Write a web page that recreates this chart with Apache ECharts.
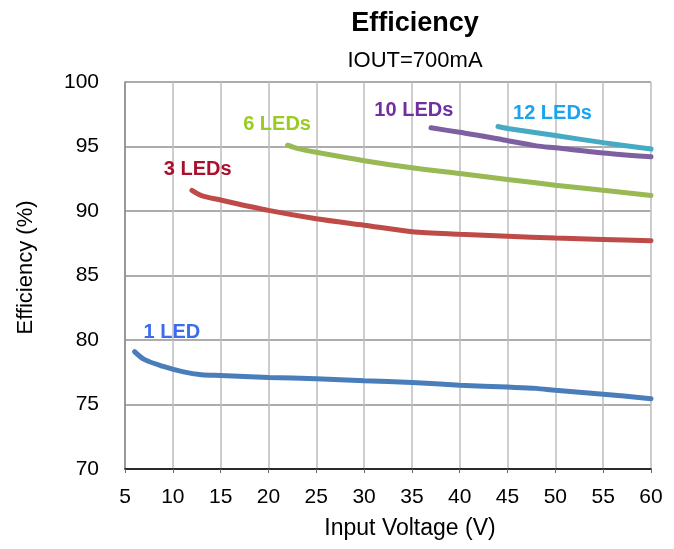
<!DOCTYPE html>
<html>
<head>
<meta charset="utf-8">
<script src="https://cdn.jsdelivr.net/npm/echarts@6/dist/echarts.min.js"></script>
<style>
  html, body { margin: 0; padding: 0; background: #fff; }
  #chart { width: 674px; height: 549px; }
</style>
</head>
<body>
<div id="chart"></div>
<script>
// efficiency curves, [input voltage, efficiency %]
const led1 = [[6, 79.1], [7, 78.5], [9, 77.95], [11, 77.55], [13, 77.3], [15, 77.25], [20, 77.1],
  [25, 77.0], [30, 76.85], [35, 76.7], [40, 76.5], [45, 76.35], [48, 76.25], [50, 76.1], [55, 75.8], [60, 75.45]]
const led3 = [[12, 91.6], [13, 91.2], [15, 90.85], [20, 90.05], [25, 89.4], [30, 88.9], [35, 88.4],
  [40, 88.2], [45, 88.05], [50, 87.9], [55, 87.8], [60, 87.7]]
const led6 = [[22, 95.1], [23, 94.85], [25, 94.55], [30, 93.9], [35, 93.35], [40, 92.9], [45, 92.45],
  [50, 92.0], [55, 91.6], [60, 91.2]]
const led10 = [[37, 96.45], [40, 96.1], [42.5, 95.8], [45, 95.45], [48, 95.05], [50, 94.9], [55, 94.5], [60, 94.2]]
const led12 = [[44, 96.55], [45, 96.4], [50, 95.85], [55, 95.3], [60, 94.8]]

const seriesNames = ['1 LED', '3 LEDs', '6 LEDs', '10 LEDs', '12 LEDs']
const seriesData = [led1, led3, led6, led10, led12]
// where each series name sits (voltage, efficiency)
const labelPos = [[9.9, 80.55], [12.6, 93.25], [20.9, 96.7], [35.2, 97.83], [49.7, 97.53]]

const lineColors = ['#4a7ebb', '#be4b48', '#98b954', '#7d60a0', '#46aac5']
const labelColors = ['#3b6cf0', '#a8102e', '#99cc22', '#7030a0', '#1aa3ee']

const font = '"Liberation Sans", Arial, sans-serif'

let chart = echarts.init(document.getElementById('chart'), null, { renderer: 'canvas' })

let series = []
for (let i = 0; i < seriesNames.length; i++) {
  series.push({
    name: seriesNames[i],
    type: 'line',
    data: seriesData[i],
    smooth: 0.3,
    symbol: 'none',
    lineStyle: { color: lineColors[i], width: 5, cap: 'round' },
    markPoint: {
      symbol: 'circle',
      symbolSize: 0,
      silent: true,
      label: {
        show: true,
        formatter: seriesNames[i],
        color: labelColors[i],
        fontFamily: font,
        fontWeight: 'bold',
        fontSize: 20
      },
      data: [{ coord: labelPos[i] }]
    },
    animation: false
  })
}

chart.setOption({
  title: {
    text: 'Efficiency',
    subtext: 'IOUT=700mA',
    left: 410,
    top: 5,
    textAlign: 'center',
    itemGap: 13,
    textStyle: { fontFamily: font, fontSize: 27, fontWeight: 'bold', color: '#000' },
    subtextStyle: { fontFamily: font, fontSize: 22, color: '#000' }
  },
  grid: { left: 125, right: 23, top: 82, bottom: 80 },
  xAxis: {
    type: 'value',
    min: 5,
    max: 60,
    interval: 5,
    name: 'Input Voltage (V)',
    nameLocation: 'middle',
    nameGap: 48,
    nameTextStyle: { fontFamily: font, fontSize: 23, color: '#000', padding: [0, 0, 0, 44] },
    axisLine: { show: true, lineStyle: { color: '#000', width: 1.5 } },
    axisTick: { show: true, length: 4, inside: false, lineStyle: { color: '#666' } },
    axisLabel: { fontFamily: font, fontSize: 21, color: '#000', margin: 18 },
    splitLine: { show: true, lineStyle: { color: '#bdbdbd', width: 1.5 } }
  },
  yAxis: {
    type: 'value',
    min: 70,
    max: 100,
    interval: 5,
    name: 'Efficiency (%)',
    nameLocation: 'middle',
    nameGap: 88,
    nameTextStyle: { fontFamily: font, fontSize: 22, color: '#000', padding: [0, 0, 0, 16] },
    axisLine: { show: true, lineStyle: { color: '#888', width: 1.5 } },
    axisTick: { show: false },
    axisLabel: { fontFamily: font, fontSize: 21, color: '#000', margin: 26 },
    splitLine: { show: true, lineStyle: { color: '#909090', width: 1.5 } }
  },
  series: series
})
</script>
</body>
</html>
